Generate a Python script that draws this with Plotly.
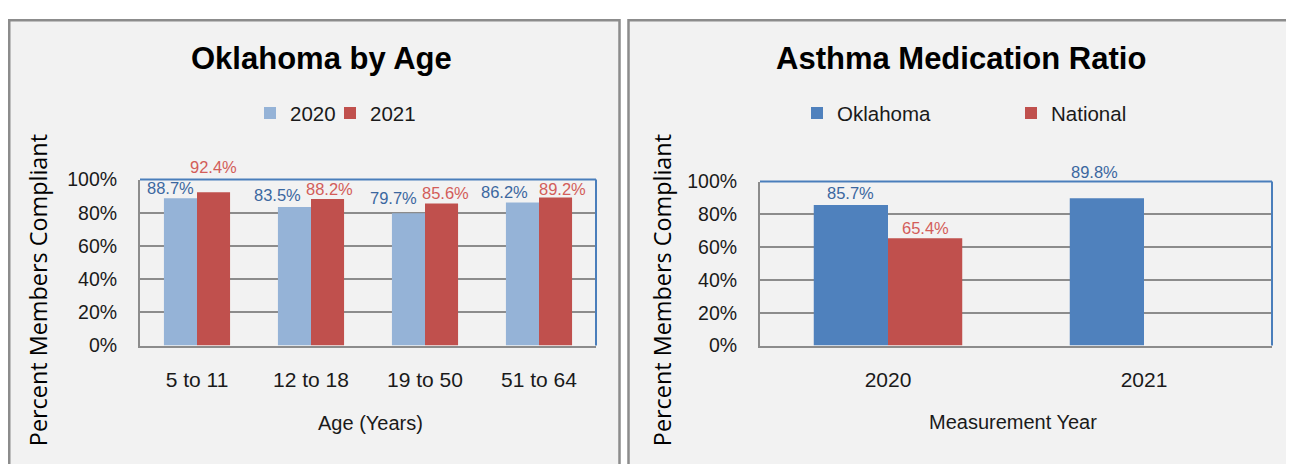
import plotly.graph_objects as go

# ---------------- data ----------------
age_groups = ["5 to 11", "12 to 18", "19 to 50", "51 to 64"]
age_2020 = [0.887, 0.835, 0.797, 0.862]
age_2021 = [0.924, 0.882, 0.856, 0.892]

years = ["2020", "2021"]
amr_oklahoma = [0.857, 0.898]
amr_national = [0.654, None]

left_title = "Oklahoma by Age"
right_title = "Asthma Medication Ratio"
y_title = "Percent Members Compliant"
left_x_title = "Age (Years)"
right_x_title = "Measurement Year"

# ---------------- layout helpers ----------------
# The figure sits inside the page with an offset; the captured page is
# slightly compressed vertically. Coordinates below are target picture pixels.
OX, OY = 8, 20.5
VSCALE = 0.9475
WF, HF = 1286, 470


def px(x):
    return (x - OX) / WF


def py(y):
    return 1 - ((y + 1) / VSCALE - OY) / HF


FONT = "Liberation Sans, Arial, sans-serif"
WIDE = "Open Sans, DejaVu Sans, sans-serif"
TXT = "#1a1a1a"
GRID = "#8c8c8c"
BLUE_LINE = "#4a7ebb"
LBL_BLUE = "#3b679f"
LBL_RED = "#d35d59"
BARGAP = 0.42

fig = go.Figure()
fig.add_trace(go.Bar(x=age_groups, y=age_2020, name="2020", marker=dict(color="#95b3d7", line=dict(width=0)),
                     xaxis="x", yaxis="y", legend="legend"))
fig.add_trace(go.Bar(x=age_groups, y=age_2021, name="2021", marker=dict(color="#c0504d", line=dict(width=0)),
                     xaxis="x", yaxis="y", legend="legend3"))
fig.add_trace(go.Bar(x=years, y=amr_oklahoma, name="Oklahoma", marker=dict(color="#4f81bd", line=dict(width=0)),
                     xaxis="x2", yaxis="y2", legend="legend2"))
fig.add_trace(go.Bar(x=years, y=amr_national, name="National", marker=dict(color="#c0504d", line=dict(width=0)),
                     xaxis="x2", yaxis="y2", legend="legend4"))

# data labels (Excel-like, with manual nudges to avoid overlaps)
half = (1 - BARGAP) / 4
nudges = {  # (panel, series, index): (dx px, extra dy px)
    ("L", 0, 0): (-10, 0), ("L", 1, 0): (0, 15),
    ("L", 0, 1): (-17, 2), ("L", 1, 1): (2, 0),
    ("L", 0, 2): (-15, 5), ("L", 1, 2): (4, 0),
    ("L", 0, 3): (-18, 0), ("L", 1, 3): (7, -2),
    ("R", 0, 0): (0, 2), ("R", 1, 0): (0, 0),
    ("R", 0, 1): (-12, 16),
}
annotations = []
for panel, xa, ya, series in (("L", "x", "y", (age_2020, age_2021)),
                               ("R", "x2", "y2", (amr_oklahoma, amr_national))):
    for s, vals in enumerate(series):
        col = LBL_BLUE if s == 0 else LBL_RED
        for i, v in enumerate(vals):
            if v is None:
                continue
            dx, dy = nudges.get((panel, s, i), (0, 0))
            annotations.append(dict(
                x=i + (-half if s == 0 else half), y=v, xref=xa, yref=ya,
                text=f"{v * 100:.1f}%", showarrow=False, yanchor="middle",
                xshift=dx, yshift=10 + dy,
                font=dict(family=FONT, size=16.5, color=col)))

# titles
for text, cx, cy, size, bold in ((left_title, 321, 58, 31, True), (right_title, 961, 58, 31, True),
                                  (left_x_title, 370, 420, 20, False),
                                  (right_x_title, 1013, 419, 20, False)):
    annotations.append(dict(x=px(cx), y=py(cy), xref="paper", yref="paper", showarrow=False,
                            xanchor="center", yanchor="middle",
                            text=f"<b>{text}</b>" if bold else text,
                            font=dict(family=FONT, size=size, color="#000000" if bold else TXT)))
for cx in (38, 662):
    annotations.append(dict(x=px(cx), y=py(288), xref="paper", yref="paper", showarrow=False,
                            xanchor="center", yanchor="middle", textangle=-90, text=y_title,
                            font=dict(family=WIDE, size=23.4, color="#000000")))

shapes = [
    dict(type="rect", xref="paper", yref="paper", x0=px(9.25), x1=px(619.5), y0=-0.1, y1=py(19.6),
         fillcolor="#f2f2f2", line=dict(color="#8c8c8c", width=2.5), layer="below"),
    dict(type="rect", xref="paper", yref="paper", x0=px(628.5), x1=px(1288.5), y0=-0.1, y1=py(19.6),
         fillcolor="#f2f2f2", line=dict(color="#8c8c8c", width=2.5), layer="below"),
]
for xa, ya in (("x", "y"), ("x2", "y2")):
    shapes.append(dict(type="line", xref=f"{xa} domain", yref=f"{ya} domain", x0=0, x1=1, y0=1, y1=1,
                       line=dict(color=BLUE_LINE, width=2)))
    shapes.append(dict(type="line", xref=f"{xa} domain", yref=f"{ya} domain", x0=1, x1=1, y0=0, y1=1,
                       line=dict(color=BLUE_LINE, width=2)))

xcommon = dict(showline=True, linecolor=GRID, linewidth=2, ticks="", ticklabelstandoff=14,
               tickfont=dict(family=FONT, size=21, color=TXT), showgrid=False, fixedrange=True)
ycommon = dict(range=[0, 1], dtick=0.2, tickformat=".0%", showgrid=True, gridcolor=GRID, gridwidth=2,
               showline=True, linecolor=GRID, linewidth=2, zeroline=False, ticks="", ticklabelstandoff=17,
               tickfont=dict(family=FONT, size=19.5, color=TXT), fixedrange=True)

legcommon = dict(orientation="h", yanchor="middle", y=py(112), xanchor="left",
                 bgcolor="rgba(0,0,0,0)", font=dict(family=FONT, size=20.5, color=TXT),
                 itemclick=False, itemdoubleclick=False)

fig.update_layout(
    width=WF, height=HF, autosize=False,
    margin=dict(l=0, r=0, t=0, b=0, pad=0),
    paper_bgcolor="#ffffff", plot_bgcolor="#f2f2f2",
    barmode="group", bargap=BARGAP, bargroupgap=0,
    xaxis=dict(domain=[px(140), px(596)], anchor="y", **xcommon),
    yaxis=dict(domain=[py(343), py(178)], anchor="x", **ycommon),
    xaxis2=dict(domain=[px(760), px(1272)], anchor="y2", **xcommon),
    yaxis2=dict(domain=[py(343), py(180)], anchor="x2", **ycommon),
    legend=dict(x=px(250), **legcommon),
    legend3=dict(x=px(330), **legcommon),
    legend2=dict(x=px(797), **legcommon),
    legend4=dict(x=px(1011), **legcommon),
    annotations=annotations,
    shapes=shapes,
    showlegend=True,
)

fig.write_html("out.html")
